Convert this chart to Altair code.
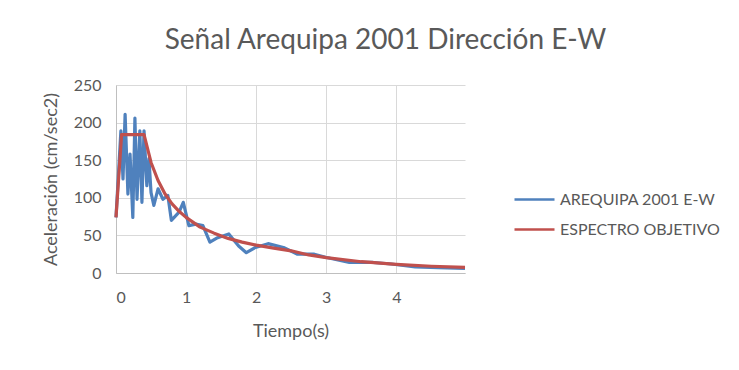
import altair as alt
import pandas as pd

# Blue series: AREQUIPA 2001 E-W
t_signal = [0.0, 0.07, 0.10, 0.13, 0.17, 0.20, 0.24, 0.27, 0.30, 0.34, 0.37, 0.40,
            0.44, 0.47, 0.50, 0.54, 0.60, 0.67, 0.74, 0.79, 0.90, 0.96, 1.04, 1.14,
            1.24, 1.34, 1.45, 1.61, 1.75, 1.86, 1.99, 2.17, 2.39, 2.59, 2.83, 2.99,
            3.33, 3.67, 3.93, 4.27, 4.60, 4.98]
a_signal = [74, 189, 125, 211, 105, 158, 74, 206, 98, 189, 94, 189,
            116, 152, 107, 90, 112, 98, 103, 70, 81, 94, 63, 65,
            63, 41, 47, 52, 36, 27, 34, 39, 34, 25, 25, 21,
            14, 14, 12, 8, 7, 6]

# Red series: ESPECTRO OBJETIVO
t_target = [0.0, 0.08, 0.40, 0.50, 0.60, 0.70, 0.80, 0.90, 1.00, 1.20, 1.40, 1.60,
            1.80, 2.00, 2.25, 2.50, 2.75, 3.00, 3.50, 4.00, 4.50, 4.98]
a_target = [74, 184, 184, 147, 123, 105, 92, 82, 74, 61, 53, 46,
            41, 37, 33, 29.5, 24, 20.5, 15, 11.5, 9, 7.4]

series_names = ["AREQUIPA 2001 E-W", "ESPECTRO OBJETIVO"]
series_colors = ["#4F81BD", "#C0504D"]
x_ticks = [0, 1, 2, 3, 4]
y_ticks = [0, 50, 100, 150, 200, 250]

df_sig = pd.DataFrame({"t": t_signal, "a": a_signal, "serie": series_names[0],
                       "i": range(len(t_signal))})
df_tgt = pd.DataFrame({"t": t_target, "a": a_target, "serie": series_names[1],
                       "i": range(len(t_target))})

FONT = "Lato"
GREY = "#595959"

color = alt.Color(
    "serie:N",
    scale=alt.Scale(domain=series_names, range=series_colors),
    legend=alt.Legend(
        title=None, orient="none", legendX=397, legendY=93,
        symbolType="stroke", symbolSize=1600, symbolStrokeWidth=2.5,
        labelFont=FONT, labelFontSize=16, labelColor=GREY,
        labelOffset=4, rowPadding=0,
    ),
)

x_enc = alt.X("t:Q", scale=alt.Scale(domain=[0, 4.98], nice=False, zero=False),
              axis=alt.Axis(values=x_ticks, title="Tiempo(s)", format="d",
                            titlePadding=17))
y_enc = alt.Y("a:Q", scale=alt.Scale(domain=[0, 250], nice=False),
              axis=alt.Axis(values=y_ticks, title="Aceleración (cm/sec2)",
                            titlePadding=13))

blue = alt.Chart(df_sig).mark_line(strokeWidth=3.2, strokeJoin="round").encode(
    x=x_enc, y=y_enc, color=color, order="i:Q")
red = alt.Chart(df_tgt).mark_line(strokeWidth=3.2, strokeJoin="round").encode(
    x=x_enc, y=y_enc, color=color, order="i:Q")

chart = (
    alt.layer(blue, red)
    .properties(
        width=349, height=188,
        autosize=alt.AutoSizeParams(type="none"),
        padding={"left": 108, "top": 77, "right": 266, "bottom": 89},
        title=alt.TitleParams("Señal Arequipa 2001 Dirección E-W", font=FONT,
                              fontSize=28, fontWeight="normal", color=GREY,
                              anchor="middle", dx=95, offset=22),
    )
    .configure_view(stroke=None)
    .configure_axis(
        labelFont=FONT, labelFontSize=16, labelColor=GREY,
        titleFont=FONT, titleFontSize=18, titleColor=GREY, titleFontWeight="normal",
        gridColor="#D9D9D9", gridWidth=1, ticks=False,
        domainColor="#BFBFBF", labelPadding=15,
    )
    .configure_axisX(labelPadding=16)
)

chart.save("out.html", embed_options={"renderer": "svg", "actions": False})
